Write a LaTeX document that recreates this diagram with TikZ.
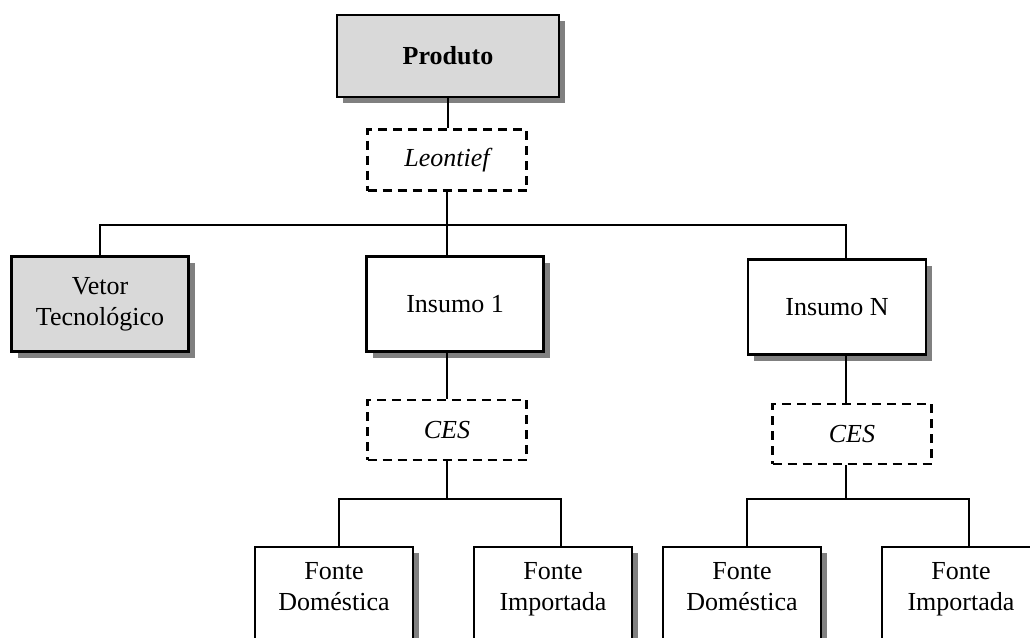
\documentclass[tikz,border=0pt]{standalone}
\usepackage{fontspec}
\setmainfont{Liberation Serif}
\usetikzlibrary{shadows}
\newcommand{\folga}{\rule[-21pt]{0pt}{0pt}}
\tikzset{
  caixa/.style={draw, line width=2.5pt, fill=white, align=center, inner sep=0pt,
    font=\fontsize{26}{31}\selectfont,
    drop shadow={shadow xshift=6pt, shadow yshift=-6pt, fill=black!50, opacity=1}},
  cinza/.style={caixa, fill=black!15},
  funcao/.style={draw, line width=2.5pt, dash pattern=on 9pt off 6pt, align=center,
    inner sep=0pt, font=\fontsize{26}{31}\selectfont\itshape},
  liga/.style={line width=1.8pt}
}
\begin{document}
\begin{tikzpicture}[x=1pt,y=-1pt]
\useasboundingbox (0,0) rectangle (1030,637);

% topo
\node[cinza, minimum width=222pt, minimum height=82pt,
  font=\fontsize{26}{31}\selectfont\bfseries] (prod) at (448,56) {Produto};
\node[funcao, minimum width=159pt, minimum height=61pt] (leon) at (447,160) {Leontief};

% segundo nivel
\node[cinza, minimum width=177pt, minimum height=95pt] (vetor) at (100,304) {\strut Vetor\\\strut Tecnológico};
\node[caixa, minimum width=177pt, minimum height=95pt] (ins1) at (455,304) {Insumo 1};
\node[caixa, minimum width=178pt, minimum height=95pt] (insN) at (837,307) {Insumo N};

% funcoes CES
\node[funcao, minimum width=159pt, minimum height=60pt] (cesA) at (447,430) {CES};
\node[funcao, minimum width=159pt, minimum height=60pt] (cesB) at (852,434) {CES};

% fontes (cortadas pela margem inferior)
\node[caixa, minimum width=158pt, minimum height=96pt] (fd1) at (334,595) {\strut Fonte\\\strut Doméstica\folga};
\node[caixa, minimum width=158pt, minimum height=96pt] (fi1) at (553,595) {\strut Fonte\\\strut Importada\folga};
\node[caixa, minimum width=158pt, minimum height=96pt] (fd2) at (742,595) {\strut Fonte\\\strut Doméstica\folga};
\node[caixa, minimum width=158pt, minimum height=96pt] (fi2) at (961,595) {\strut Fonte\\\strut Importada\folga};

% ligacoes
\draw[liga] (prod.south) -- (prod.south |- leon.north);
\draw[liga] (leon.south) -- ++(0,33) coordinate (bus);
\draw[liga] (vetor.north) |- (bus) -| ([xshift=9pt]insN.north);
\draw[liga] (bus) -- (bus |- ins1.north);
\draw[liga] (ins1.south -| cesA.north) -- (cesA.north);
\draw[liga] ([xshift=9pt]insN.south) -- ([xshift=9pt]insN.south |- cesB.north);

\draw[liga] (cesA.south) -- ++(0,38) coordinate (busA);
\draw[liga] ([xshift=5pt]fd1.north) |- (busA) -| ([xshift=8pt]fi1.north);
\draw[liga] ([xshift=-6pt]cesB.south) -- ++(0,34) coordinate (busB);
\draw[liga] ([xshift=5pt]fd2.north) |- (busB) -| ([xshift=8pt]fi2.north);
\end{tikzpicture}
\end{document}
